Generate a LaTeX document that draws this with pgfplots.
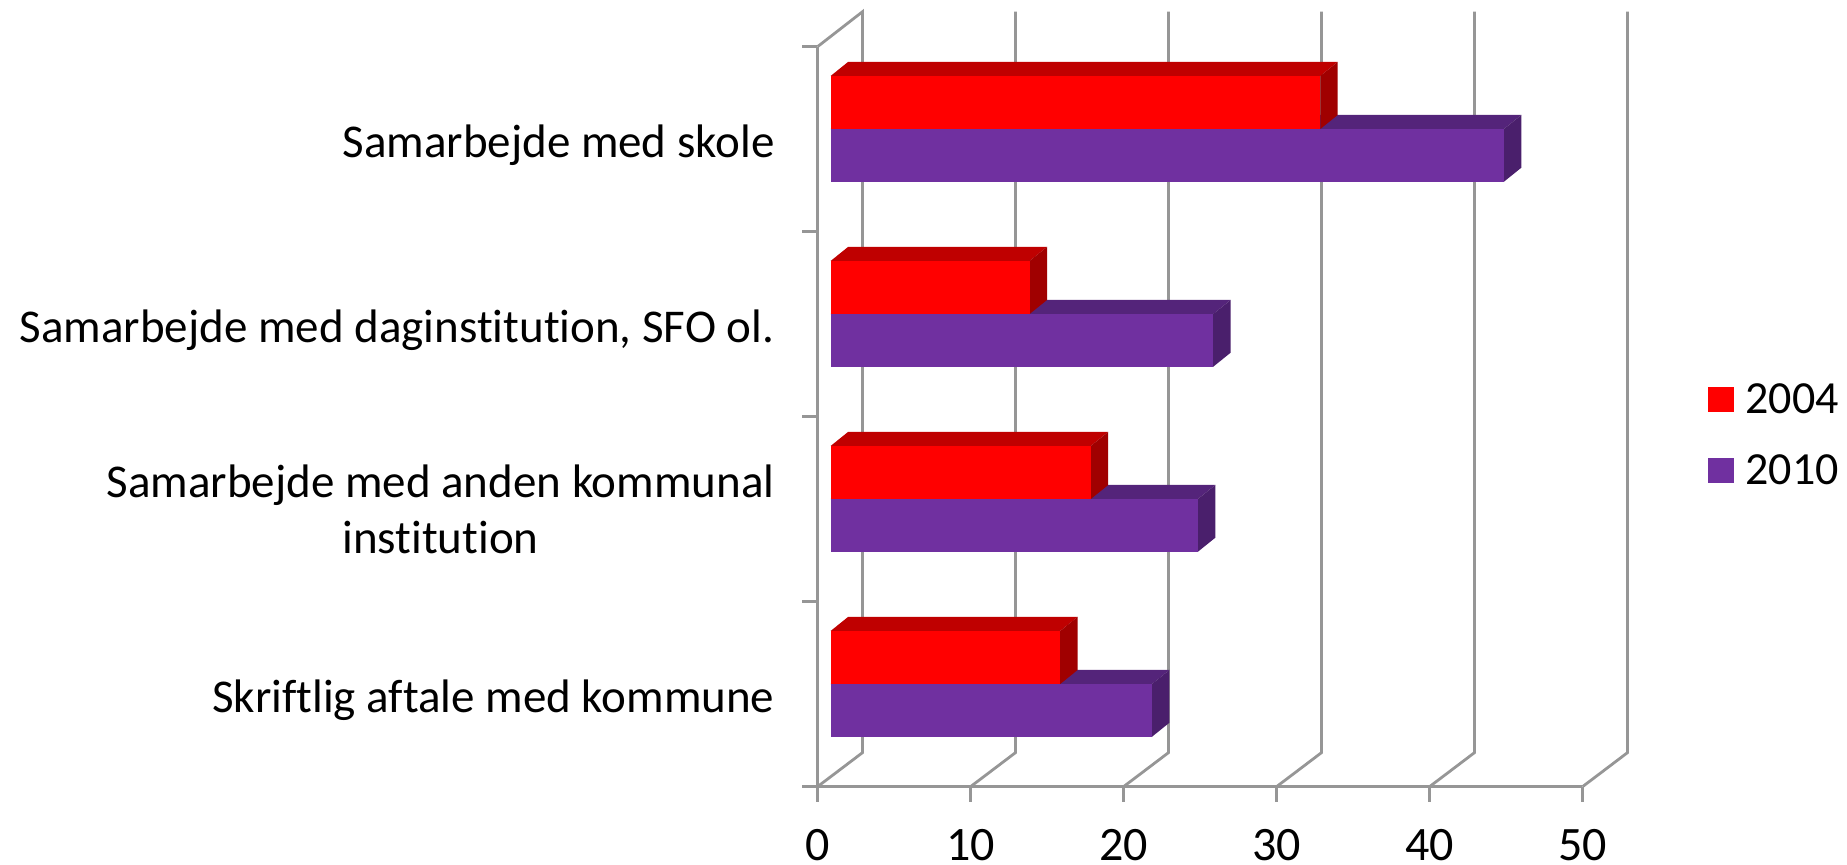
\documentclass[border=0pt]{standalone}
\usepackage{fontspec}
\setmainfont{Carlito}[Ligatures={NoCommon}]
\usepackage{pgfplots}
\pgfplotsset{compat=1.18}
\definecolor{gridg}{HTML}{969696}
\definecolor{redF}{HTML}{FF0000}
\definecolor{redT}{HTML}{BF0000}
\definecolor{redS}{HTML}{A00000}
\definecolor{purF}{HTML}{7030A0}
\definecolor{purT}{HTML}{54247A}
\definecolor{purS}{HTML}{4A1F6C}
\pgfplotsset{
  g/.style={gridg, line width=1.4pt, forget plot},
  f/.style={fill=#1, draw=none, forget plot, xshift=6.6pt},
}
\begin{document}
\begin{tikzpicture}
\begin{axis}[
  name=a, scale only axis, width=382.5pt, height=370pt,
  xmin=0, xmax=50, ymin=0, ymax=4, clip=false,
  axis x line=bottom, axis y line=left,
  axis line style={gridg, line width=1.4pt, -},
  tick style={gridg, line width=1.4pt},
  major tick length=7.5pt,
  tick align=outside, xtick pos=lower, ytick pos=left,
  xtick={0,10,20,30,40,50},
  ytick={0,1,2,3,4}, yticklabels={},
  extra y ticks={0.468,1.5,2.468,3.468},
  extra y tick labels={Skriftlig aftale med kommune,{Samarbejde med anden kommunal\\institution},{Samarbejde med daginstitution, SFO ol.},Samarbejde med skole},
  extra y tick style={major tick length=0pt, tick style={draw=none},
    tick label style={font=\fontsize{23.5}{28}\selectfont, align=center, anchor=east, xshift=-18pt}},
  /pgf/number format/assume math mode=true,
  x tick label style={font=\fontsize{24}{28}\selectfont, inner sep=0pt, outer sep=0pt, yshift=-14pt},
  legend image code/.code={\fill[draw=none,#1] (0pt,-6.25pt) rectangle (13.25pt,6.25pt);},
  legend style={draw=none, fill=none, at={(axis cs:58.2,2.18)}, anchor=north west,
    font=\fontsize{23}{28}\selectfont, row sep=19pt, inner sep=0pt, outer sep=0pt,
    nodes={inner sep=0pt, outer sep=0pt}},
  legend cell align=left,
]
\addlegendimage{fill=redF}
\addlegendentry{\hspace{5.6pt}2004}
\addlegendimage{fill=purF}
\addlegendentry{\hspace{5.6pt}2010}
% back gridlines and floor
\addplot[g] coordinates {(0,4) (2.94,4.189) (2.94,0.184) (0,0)};
\addplot[g] coordinates {(10,0) (12.94,0.184) (12.94,4.189)};
\addplot[g] coordinates {(20,0) (22.94,0.184) (22.94,4.189)};
\addplot[g] coordinates {(30,0) (32.94,0.184) (32.94,4.189)};
\addplot[g] coordinates {(40,0) (42.94,0.184) (42.94,4.189)};
\addplot[g] coordinates {(50,0) (52.94,0.184) (52.94,4.189)};
% Skriftlig aftale: 2004 = 15, 2010 = 21
\addplot[f=purT] coordinates {(0,0.555)(21,0.555)(22.14,0.631)(1.14,0.631)} -- cycle;
\addplot[f=purS] coordinates {(21,0.27)(22.14,0.346)(22.14,0.631)(21,0.555)} -- cycle;
\addplot[f=purF] coordinates {(0,0.27)(21,0.27)(21,0.555)(0,0.555)} -- cycle;
\addplot[f=redT] coordinates {(0,0.842)(15,0.842)(16.14,0.918)(1.14,0.918)} -- cycle;
\addplot[f=redS] coordinates {(15,0.555)(16.14,0.631)(16.14,0.918)(15,0.842)} -- cycle;
\addplot[f=redF] coordinates {(0,0.555)(15,0.555)(15,0.842)(0,0.842)} -- cycle;
% Anden kommunal institution: 2004 = 17, 2010 = 24
\addplot[f=purT] coordinates {(0,1.555)(24,1.555)(25.14,1.631)(1.14,1.631)} -- cycle;
\addplot[f=purS] coordinates {(24,1.27)(25.14,1.346)(25.14,1.631)(24,1.555)} -- cycle;
\addplot[f=purF] coordinates {(0,1.27)(24,1.27)(24,1.555)(0,1.555)} -- cycle;
\addplot[f=redT] coordinates {(0,1.842)(17,1.842)(18.14,1.918)(1.14,1.918)} -- cycle;
\addplot[f=redS] coordinates {(17,1.555)(18.14,1.631)(18.14,1.918)(17,1.842)} -- cycle;
\addplot[f=redF] coordinates {(0,1.555)(17,1.555)(17,1.842)(0,1.842)} -- cycle;
% Daginstitution: 2004 = 13, 2010 = 25
\addplot[f=purT] coordinates {(0,2.555)(25,2.555)(26.14,2.631)(1.14,2.631)} -- cycle;
\addplot[f=purS] coordinates {(25,2.27)(26.14,2.346)(26.14,2.631)(25,2.555)} -- cycle;
\addplot[f=purF] coordinates {(0,2.27)(25,2.27)(25,2.555)(0,2.555)} -- cycle;
\addplot[f=redT] coordinates {(0,2.842)(13,2.842)(14.14,2.918)(1.14,2.918)} -- cycle;
\addplot[f=redS] coordinates {(13,2.555)(14.14,2.631)(14.14,2.918)(13,2.842)} -- cycle;
\addplot[f=redF] coordinates {(0,2.555)(13,2.555)(13,2.842)(0,2.842)} -- cycle;
% Skole: 2004 = 32, 2010 = 44
\addplot[f=purT] coordinates {(0,3.555)(44,3.555)(45.14,3.631)(1.14,3.631)} -- cycle;
\addplot[f=purS] coordinates {(44,3.27)(45.14,3.346)(45.14,3.631)(44,3.555)} -- cycle;
\addplot[f=purF] coordinates {(0,3.27)(44,3.27)(44,3.555)(0,3.555)} -- cycle;
\addplot[f=redT] coordinates {(0,3.842)(32,3.842)(33.14,3.918)(1.14,3.918)} -- cycle;
\addplot[f=redS] coordinates {(32,3.555)(33.14,3.631)(33.14,3.918)(32,3.842)} -- cycle;
\addplot[f=redF] coordinates {(0,3.555)(32,3.555)(32,3.842)(0,3.842)} -- cycle;
\end{axis}
\pgfresetboundingbox
\path[use as bounding box] (a.south west) ++(-408.75pt,-38.65pt) rectangle ++(923.5pt,432pt);
\end{tikzpicture}
\end{document}
